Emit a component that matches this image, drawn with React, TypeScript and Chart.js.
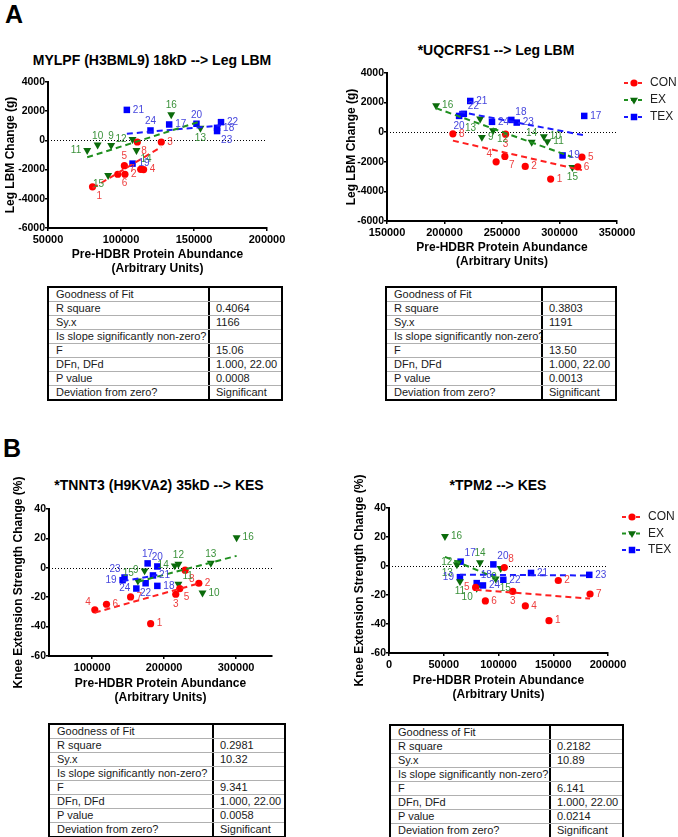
import React, { useEffect, useRef } from 'react';
import { Chart, registerables } from 'chart.js';
Chart.register(...registerables);

const FONT = '"Liberation Sans", Arial, Helvetica, sans-serif';

// ---------- DATA ----------
const conIds = [1, 2, 3, 4, 5, 6, 7, 8];
const exIds = [9, 10, 11, 12, 13, 14, 15, 16];
const texIds = [17, 18, 19, 20, 21, 22, 23, 24];
const groupNames = ['CON', 'EX', 'TEX'];

// A-left: MYLPF (H3BML9) 18kD --> Leg LBM
const mylpfConX = [80500, 102700, 127600, 115500, 102300, 97800, 113500, 111200];
const mylpfConY = [-3180, -2320, -110, -2000, -1730, -2320, -1980, -110];
const mylpfExX = [93250, 84000, 76850, 107900, 154400, 110600, 91200, 134400];
const mylpfExY = [-340, -300, -680, 70, 840, -680, -2390, 1770];
const mylpfTexX = [133000, 165800, 107900, 151700, 104000, 168500, 165800, 120200];
const mylpfTexY = [1090, 860, -1590, 1140, 2090, 1250, 640, 680];

// A-right: *UQCRFS1 --> Leg LBM
const uqcrfsConX = [292300, 270200, 253100, 244900, 319500, 315900, 252500, 207300];
const uqcrfsConY = [-3170, -2310, -135, -2000, -1690, -2340, -1640, -110];
const uqcrfsExX = [232500, 286400, 289400, 242200, 231000, 275800, 311200, 192700];
const uqcrfsExY = [-340, -290, -630, 110, 900, -670, -2380, 1800];
const uqcrfsTexX = [321500, 258100, 302700, 212700, 222400, 216800, 262800, 241300];
const uqcrfsTexY = [1100, 830, -1570, 1100, 2110, 1240, 650, 700];

// B-left: *TNNT3 (H9KVA2) 35kD --> KES
const tnnt3ConX = [181300, 248300, 216200, 103700, 221800, 119900, 153400, 229200];
const tnnt3ConY = [-38, -10.5, -18, -28.6, -14.1, -24.8, -19.8, -1.6];
const tnnt3ExX = [172900, 253400, 219900, 219900, 265000, 214800, 163600, 300800];
const tnnt3ExY = [-2, -17, -11.1, 2.5, 3.2, 1.4, -8.9, 20.5];
const tnnt3TexX = [177100, 190600, 142300, 190600, 184500, 174300, 145000, 161400];
const tnnt3TexY = [3, -12.3, -8.4, 0.9, -5.2, -10.5, -6.6, -14.1];

// B-right: *TPM2 --> KES
const tpm2ConX = [146100, 154600, 113000, 124500, 79100, 88000, 183600, 105300];
const tpm2ConY = [-37.7, -10, -17.5, -27.5, -14.8, -24.1, -19.3, -1.1];
const tpm2ExX = [102000, 80100, 64800, 63300, 62000, 83100, 97400, 51100];
const tpm2ExY = [-1.6, -15.2, -10.7, 2.3, 1, 2.3, -8.9, 20.5];
const tpm2TexX = [65400, 80100, 64800, 95300, 129700, 104400, 182900, 85800];
const tpm2TexY = [3, -11.8, -7.7, 1.1, -4.8, -9.5, -6.1, -13.4];

// ticks
const lbmYTicks = [-6000, -4000, -2000, 0, 2000, 4000];
const kesYTicks = [-60, -40, -20, 0, 20, 40];
const mylpfXTicks = [50000, 100000, 150000, 200000];
const uqcrfsXTicks = [150000, 200000, 250000, 300000, 350000];
const tnnt3XTicks = [100000, 200000, 300000];
const tpm2XTicks = [0, 50000, 100000, 150000, 200000];

// text
const titles = [
  'MYLPF (H3BML9) 18kD --> Leg LBM',
  '*UQCRFS1 --> Leg LBM',
  '*TNNT3 (H9KVA2) 35kD --> KES',
  '*TPM2 --> KES',
];
const xTitle = ['Pre-HDBR Protein Abundance', '(Arbitrary Units)'];
const lbmYTitle = 'Leg LBM Change (g)';
const kesYTitle = 'Knee Extension Strength Change (%)';

const tableLabels = [
  'Goodness of Fit', 'R square', 'Sy.x', 'Is slope significantly non-zero?',
  'F', 'DFn, DFd', 'P value', 'Deviation from zero?',
];
const mylpfStats = ['', '0.4064', '1166', '', '15.06', '1.000, 22.00', '0.0008', 'Significant'];
const uqcrfsStats = ['', '0.3803', '1191', '', '13.50', '1.000, 22.00', '0.0013', 'Significant'];
const tnnt3Stats = ['', '0.2981', '10.32', '', '9.341', '1.000, 22.00', '0.0058', 'Significant'];
const tpm2Stats = ['', '0.2182', '10.89', '', '6.141', '1.000, 22.00', '0.0214', 'Significant'];

// label placement (r default)
const mylpfPlace: Record<number, string> = { 1: 'br', 5: 'a', 6: 'br', 7: 'l', 8: 'br', 9: 'a', 10: 'a', 11: 'l', 12: 'l', 13: 'b', 14: 'br', 15: 'bl', 16: 'a', 20: 'a', 23: 'br', 24: 'a' };
const uqcrfsPlace: Record<number, string> = { 3: 'b', 4: 'al', 7: 'br', 13: 'bl', 12: 'br', 14: 'a', 15: 'b', 20: 'b', 22: 'ar', 18: 'ar' };
const tnnt3Place: Record<number, string> = { 4: 'al', 3: 'b', 5: 'br', 8: 'br', 13: 'a', 12: 'a', 14: 'l', 11: 'ar', 15: 'al', 9: 'l', 17: 'a', 20: 'a', 23: 'al', 19: 'l', 24: 'l', 22: 'b' };
const tpm2Place: Record<number, string> = { 8: 'ar', 3: 'b', 5: 'l', 12: 'l', 13: 'bl', 14: 'a', 9: 'bl', 11: 'b', 10: 'bl', 15: 'br', 17: 'ar', 20: 'ar', 19: 'l', 18: 'ar' };

// ---------- STYLE ----------
const COLORS = ['#ff0000', '#0b6b0b', '#0000ff'];
const LINE_COLORS = ['#ff2020', '#1f8f1f', '#1a1aff'];
const LABEL_COLORS = ['#ee4040', '#3a913a', '#4545dd'];
const STYLES = ['circle', 'triangle', 'rect'];
const RADII = [3.6, 4.6, 4.6];
const ROT = [0, 180, 0];

function fitLine(xs: number[], ys: number[]) {
  const n = xs.length;
  const mx = xs.reduce((a, b) => a + b, 0) / n;
  const my = ys.reduce((a, b) => a + b, 0) / n;
  let sxy = 0, sxx = 0;
  for (let i = 0; i < n; i++) { sxy += (xs[i] - mx) * (ys[i] - my); sxx += (xs[i] - mx) ** 2; }
  const b = sxy / sxx;
  const x0 = Math.min(...xs), x1 = Math.max(...xs);
  return [{ x: x0, y: my + b * (x0 - mx) }, { x: x1, y: my + b * (x1 - mx) }];
}

function drawMarker(ctx: CanvasRenderingContext2D, k: number, x: number, y: number) {
  ctx.fillStyle = COLORS[k];
  ctx.beginPath();
  if (k === 0) ctx.arc(x, y, RADII[0], 0, Math.PI * 2);
  else if (k === 1) {
    const r = RADII[1];
    ctx.moveTo(x - r * 0.866, y - r * 0.5); ctx.lineTo(x + r * 0.866, y - r * 0.5); ctx.lineTo(x, y + r); ctx.closePath();
  } else {
    const s = RADII[2] * Math.SQRT1_2;
    ctx.rect(x - s, y - s, 2 * s, 2 * s);
  }
  ctx.fill();
}

const zeroLine = {
  id: 'zeroLine',
  beforeDatasetsDraw(chart: any) {
    const { ctx, chartArea, scales } = chart;
    const y = Math.round(scales.y.getPixelForValue(0)) + 0.5;
    ctx.save();
    ctx.strokeStyle = '#000';
    ctx.lineWidth = 1;
    ctx.setLineDash([1, 2]);
    ctx.beginPath();
    ctx.moveTo(chartArea.left, y);
    ctx.lineTo(chartArea.right, y);
    ctx.stroke();
    ctx.restore();
  },
};

const pointLabels = {
  id: 'pointLabels',
  afterDatasetsDraw(chart: any, _a: any, opts: any) {
    const { ctx } = chart;
    const place = opts.place || {};
    ctx.save();
    ctx.font = `10px ${FONT}`;
    chart.data.datasets.forEach((ds: any, i: number) => {
      if (!ds.ids) return;
      const meta = chart.getDatasetMeta(i);
      ctx.fillStyle = ds.labelColor;
      meta.data.forEach((el: any, j: number) => {
        const id = ds.ids[j];
        const p = place[id] || 'r';
        let x = el.x, y = el.y, align: CanvasTextAlign = 'left';
        if (p === 'r') { x += 6; }
        else if (p === 'l') { x -= 6; align = 'right'; }
        else if (p === 'a') { y -= 9; align = 'center'; }
        else if (p === 'b') { y += 10; align = 'center'; }
        else if (p === 'ar') { x += 4; y -= 8; }
        else if (p === 'al') { x -= 4; y -= 8; align = 'right'; }
        else if (p === 'br') { x += 4; y += 9; }
        else if (p === 'bl') { x -= 4; y += 9; align = 'right'; }
        ctx.textAlign = align;
        ctx.textBaseline = 'middle';
        ctx.fillText(String(id), x, y);
      });
    });
    ctx.restore();
  },
};

const lineLegend = {
  id: 'lineLegend',
  afterDraw(chart: any, _a: any, opts: any) {
    if (!opts || !opts.show) return;
    const { ctx, chartArea } = chart;
    ctx.save();
    groupNames.forEach((name, k) => {
      const y = chartArea.top + opts.dy + k * opts.gap;
      const x0 = chartArea.right + opts.dx;
      ctx.strokeStyle = LINE_COLORS[k];
      ctx.lineWidth = 2;
      ctx.setLineDash([4, 3]);
      ctx.beginPath();
      ctx.moveTo(x0, y);
      ctx.lineTo(x0 + 20, y);
      ctx.stroke();
      ctx.setLineDash([]);
      drawMarker(ctx, k, x0 + 10, y);
      ctx.fillStyle = '#222';
      ctx.font = `12px ${FONT}`;
      ctx.textAlign = 'left';
      ctx.textBaseline = 'middle';
      ctx.fillText(name, x0 + 26, y);
    });
    ctx.restore();
  },
};

interface Spec {
  groups: [number[], number[]][];
  xMin: number; xMax: number; xTicks: number[];
  yTicks: number[]; yTitle: string;
  place: Record<number, string>;
  pad: { top: number; right: number };
  yW: number; xH: number; yTitlePad: number;
  legend?: { dx: number; dy: number; gap: number };
}

function buildConfig(s: Spec): any {
  const idsList = [conIds, exIds, texIds];
  const datasets: any[] = [];
  s.groups.forEach(([xs, ys], k) => {
    datasets.push({
      data: xs.map((x, i) => ({ x, y: ys[i] })),
      ids: idsList[k],
      labelColor: LABEL_COLORS[k],
      pointStyle: STYLES[k],
      pointRadius: RADII[k],
      pointRotation: ROT[k],
      backgroundColor: COLORS[k],
      borderColor: COLORS[k],
      pointBorderWidth: 0,
      order: 2,
    });
  });
  s.groups.forEach(([xs, ys], k) => {
    datasets.push({
      data: fitLine(xs, ys),
      showLine: true,
      borderColor: LINE_COLORS[k],
      borderWidth: 2,
      borderDash: [6, 4],
      pointRadius: 0,
      fill: false,
      order: 1,
    });
  });
  const xTickFont = { family: FONT, size: 11, weight: 'bold' as const };
  const yTickFont = { family: FONT, size: 10.5, weight: 'bold' as const };
  const titleFont = { family: FONT, size: 12, weight: 'bold' as const };
  const grid = { display: true, drawOnChartArea: false, drawTicks: true, tickLength: 3, color: '#000', lineWidth: 1.5 };
  const border = { display: true, color: '#000', width: 2 };
  return {
    type: 'scatter',
    data: { datasets },
    plugins: [zeroLine, pointLabels, lineLegend],
    options: {
      responsive: false,
      animation: false,
      devicePixelRatio: 1,
      layout: { padding: { left: 0, top: s.pad.top, right: s.pad.right, bottom: 0 } },
      plugins: {
        legend: { display: false },
        tooltip: { enabled: false },
        pointLabels: { place: s.place },
        lineLegend: s.legend ? { show: true, ...s.legend } : { show: false },
      },
      scales: {
        x: {
          type: 'linear', min: s.xMin, max: s.xMax,
          afterBuildTicks: (sc: any) => { sc.ticks = s.xTicks.map((v) => ({ value: v })); },
          afterFit: (sc: any) => { sc.height = s.xH; },
          ticks: { font: xTickFont, color: '#000', padding: 2, maxRotation: 0, autoSkip: false, callback: (v: any) => String(v) },
          grid, border,
          title: { display: true, text: xTitle, font: titleFont, color: '#000', padding: { top: 0, bottom: 4 } },
        },
        y: {
          type: 'linear', min: s.yTicks[0], max: s.yTicks[s.yTicks.length - 1],
          afterBuildTicks: (sc: any) => { sc.ticks = s.yTicks.map((v) => ({ value: v })); },
          afterFit: (sc: any) => { sc.width = s.yW; },
          ticks: { font: yTickFont, color: '#000', padding: 0, autoSkip: false, callback: (v: any) => String(v) },
          grid, border,
          title: { display: true, text: s.yTitle, font: titleFont, color: '#000', padding: { top: s.yTitlePad, bottom: 0 } },
        },
      },
    },
  };
}

function ChartBox({ left, top, width, height, spec }: { left: number; top: number; width: number; height: number; spec: Spec }) {
  const ref = useRef<HTMLCanvasElement>(null);
  useEffect(() => {
    const c = new Chart(ref.current as HTMLCanvasElement, buildConfig(spec));
    return () => c.destroy();
  }, []);
  return (
    <canvas ref={ref} width={width} height={height}
      style={{ position: 'absolute', left, top, width, height, display: 'block' }} />
  );
}

function StatsTable({ left, top, width, col1, values }: { left: number; top: number; width: number; col1: number; values: string[] }) {
  return (
    <div style={{ position: 'absolute', left, top, width, border: '2px solid #000', boxSizing: 'border-box', fontFamily: FONT, fontSize: 11, color: '#1a1a1a', background: '#fff' }}>
      {tableLabels.map((lab, i) => (
        <div key={i} style={{ display: 'flex', height: 13, lineHeight: '13px', borderTop: i ? '1px solid #b0b0b0' : 'none' }}>
          <div style={{ width: col1, flex: 'none', borderRight: '2px solid #000', paddingLeft: 7, boxSizing: 'border-box', whiteSpace: 'nowrap', overflow: 'hidden' }}>{lab}</div>
          <div style={{ paddingLeft: 6, whiteSpace: 'nowrap' }}>{values[i]}</div>
        </div>
      ))}
    </div>
  );
}

function Title({ cx, cy, text }: { cx: number; cy: number; text: string }) {
  return (
    <div style={{ position: 'absolute', left: cx - 200, top: cy - 8, width: 400, textAlign: 'center', fontFamily: FONT, fontWeight: 'bold', fontSize: 14, lineHeight: '16px', color: '#000' }}>{text}</div>
  );
}

const spec1: Spec = {
  groups: [[mylpfConX, mylpfConY], [mylpfExX, mylpfExY], [mylpfTexX, mylpfTexY]],
  xMin: 50000, xMax: 200000, xTicks: mylpfXTicks, yTicks: lbmYTicks, yTitle: lbmYTitle,
  place: mylpfPlace, pad: { top: 42, right: 33 }, yW: 48, xH: 52, yTitlePad: 3,
};
const spec2: Spec = {
  groups: [[uqcrfsConX, uqcrfsConY], [uqcrfsExX, uqcrfsExY], [uqcrfsTexX, uqcrfsTexY]],
  xMin: 150000, xMax: 350000, xTicks: uqcrfsXTicks, yTicks: lbmYTicks, yTitle: lbmYTitle,
  place: uqcrfsPlace, pad: { top: 33, right: 61 }, yW: 47, xH: 52, yTitlePad: 4,
  legend: { dx: 7, dy: 10, gap: 17 },
};
const spec3: Spec = {
  groups: [[tnnt3ConX, tnnt3ConY], [tnnt3ExX, tnnt3ExY], [tnnt3TexX, tnnt3TexY]],
  xMin: 40000, xMax: 350000, xTicks: tnnt3XTicks, yTicks: kesYTicks, yTitle: kesYTitle,
  place: tnnt3Place, pad: { top: 69, right: 28 }, yW: 49, xH: 53, yTitlePad: 11,
};
const spec4: Spec = {
  groups: [[tpm2ConX, tpm2ConY], [tpm2ExX, tpm2ExY], [tpm2TexX, tpm2TexY]],
  xMin: 0, xMax: 200000, xTicks: tpm2XTicks, yTicks: kesYTicks, yTitle: kesYTitle,
  place: tpm2Place, pad: { top: 68, right: 70 }, yW: 49, xH: 53, yTitlePad: 12,
  legend: { dx: 14, dy: 9, gap: 16.5 },
};

export default function App() {
  return (
    <div style={{ position: 'absolute', left: 0, top: 0, width: 678, height: 837, background: '#fff', overflow: 'hidden' }}>
      <div style={{ position: 'absolute', left: 5, top: 2, fontFamily: FONT, fontWeight: 'bold', fontSize: 25, lineHeight: '25px' }}>A</div>
      <div style={{ position: 'absolute', left: 3, top: 436, fontFamily: FONT, fontWeight: 'bold', fontSize: 25, lineHeight: '25px' }}>B</div>
      <Title cx={152} cy={60} text={titles[0]} />
      <Title cx={496} cy={50} text={titles[1]} />
      <Title cx={159} cy={485} text={titles[2]} />
      <Title cx={498} cy={485} text={titles[3]} />
      <ChartBox left={0} top={40} width={300} height={240} spec={spec1} />
      <ChartBox left={340} top={40} width={338} height={233} spec={spec2} />
      <ChartBox left={0} top={440} width={300} height={269} spec={spec3} />
      <ChartBox left={340} top={440} width={338} height={266} spec={spec4} />
      <StatsTable left={47} top={286} width={236} col1={161} values={mylpfStats} />
      <StatsTable left={385} top={286} width={232} col1={156} values={uqcrfsStats} />
      <StatsTable left={48} top={723} width={238} col1={164} values={tnnt3Stats} />
      <StatsTable left={389} top={724} width={235} col1={160} values={tpm2Stats} />
    </div>
  );
}
